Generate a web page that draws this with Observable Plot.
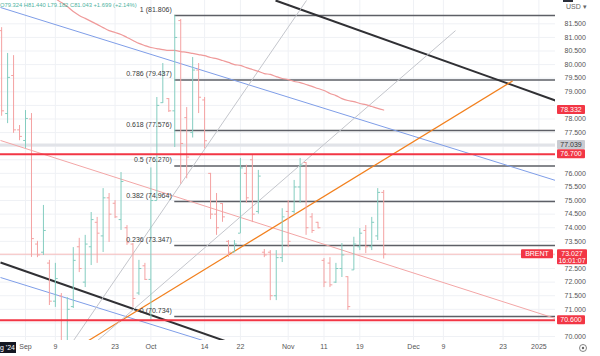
<!DOCTYPE html>
<html><head><meta charset="utf-8">
<script src="https://cdn.jsdelivr.net/npm/d3@7"></script>
<script src="https://cdn.jsdelivr.net/npm/@observablehq/plot@0.6"></script>
<style>body{margin:0;background:#fff}#chart{width:600px;height:356px;overflow:hidden}</style>
</head><body><div id="chart"></div>
<script>
// ---------- data ----------
const barDates = ["2024-08-27","2024-08-28","2024-08-29","2024-08-30","2024-09-02","2024-09-03","2024-09-04","2024-09-05","2024-09-06","2024-09-09","2024-09-10","2024-09-11","2024-09-12","2024-09-13","2024-09-16","2024-09-17","2024-09-18","2024-09-19","2024-09-20","2024-09-23","2024-09-24","2024-09-25","2024-09-26","2024-09-27","2024-09-30","2024-10-01","2024-10-02","2024-10-03","2024-10-04","2024-10-07","2024-10-08","2024-10-09","2024-10-10","2024-10-11","2024-10-14","2024-10-15","2024-10-16","2024-10-17","2024-10-18","2024-10-21","2024-10-22","2024-10-23","2024-10-24","2024-10-25","2024-10-28","2024-10-29","2024-10-30","2024-10-31","2024-11-01","2024-11-04","2024-11-05","2024-11-06","2024-11-07","2024-11-08","2024-11-11","2024-11-12","2024-11-13","2024-11-14","2024-11-15","2024-11-18","2024-11-19","2024-11-20","2024-11-21","2024-11-22","2024-11-25"];
const opens  = [81.25,78.20,79.60,77.60,77.21,78.00,73.40,73.10,72.70,71.30,71.50,69.30,71.10,73.30,72.00,73.30,74.20,73.70,75.10,74.90,74.30,74.00,73.40,71.60,72.60,72.10,75.00,78.60,78.75,78.30,81.62,78.05,77.50,79.80,78.70,76.00,74.50,74.89,73.50,73.10,73.80,76.00,76.50,74.60,73.10,73.10,71.50,72.90,74.60,74.60,75.50,76.40,74.40,74.20,72.80,72.70,72.00,72.50,72.20,72.45,73.30,73.90,73.30,73.70,75.30];
const highs  = [81.36,80.41,80.33,77.76,78.31,78.20,73.50,74.82,72.80,72.69,71.58,71.43,73.27,73.61,73.72,74.56,74.38,75.44,75.26,75.00,76.03,74.08,73.42,72.80,72.69,76.20,78.79,80.04,78.75,81.81,81.66,78.42,80.26,80.04,78.79,76.00,75.26,74.89,73.53,73.53,76.55,76.30,76.66,76.11,73.20,73.16,73.16,74.70,75.00,75.74,76.55,76.40,74.52,74.20,72.87,72.90,72.69,73.42,72.20,73.65,73.97,74.08,74.38,75.44,75.37];
const lows   = [78.10,77.83,77.47,77.20,76.91,72.91,72.90,72.98,71.14,71.07,68.70,68.70,71.03,72.35,71.80,72.61,72.69,73.09,73.46,74.34,73.90,73.35,71.07,71.51,72.06,70.60,75.00,78.57,78.24,76.95,75.60,75.80,77.30,78.20,76.90,74.30,73.72,74.20,72.91,73.09,73.79,74.90,74.19,74.50,72.90,71.32,71.32,72.72,73.27,74.50,74.90,73.72,73.79,73.96,71.80,71.80,71.95,72.17,70.96,72.43,73.16,73.05,73.16,73.53,72.85];
const closes = [78.30,79.53,77.60,77.36,78.02,73.60,73.00,73.90,71.30,72.13,69.30,71.00,72.80,72.50,73.40,74.30,73.80,75.10,74.50,74.40,75.70,73.45,71.40,72.50,72.10,75.00,78.50,79.70,78.30,81.00,77.10,76.60,79.80,78.80,77.20,74.50,74.00,74.40,73.10,73.40,76.20,75.10,74.50,75.90,73.00,71.50,72.90,74.40,73.50,75.50,76.30,74.00,73.90,74.00,72.00,71.90,72.50,73.00,71.10,73.40,73.80,73.30,74.20,75.30,73.03];

// moving average, one value per bar from maStart
const maStart = "2024-09-09";
const maValues = [82.43,82.28,82.14,81.95,81.81,81.70,81.59,81.48,81.36,81.25,81.18,81.11,81.00,80.89,80.78,80.70,80.63,80.59,80.55,80.52,80.52,80.48,80.45,80.41,80.37,80.33,80.26,80.22,80.15,80.08,80.00,79.97,79.89,79.82,79.75,79.67,79.64,79.56,79.49,79.45,79.38,79.34,79.27,79.20,79.12,79.05,78.94,78.86,78.75,78.68,78.64,78.57,78.53,78.46,78.39,78.33];

// fibonacci retracement
const fibHigh = 81.806, fibLow = 70.734, fibStart = "2024-10-07";
const fibRatios = [1, 0.786, 0.618, 0.5, 0.382, 0.236, 0];

// drawn trend lines, endpoints as (bar slot, price)
const lineNames = ["blueUpper","blueLower","blackUpper","blackLower","pinkTrend","orange","grayA","grayB"];
const lineS1 = [-4.19, -4.19, 41.88, -4.19, -4.19, 10.55, 8.04, 12.06];
const lineP1 = [82.10, 72.17, 82.36, 72.72, 77.21, 69.85, 69.85, 69.85];
const lineS2 = [88.78, 31.83, 88.78, 36.50, 88.78, 81.60, 47.07, 72.03];
const lineP2 = [75.74, 69.71, 78.68, 69.60, 70.66, 79.40, 82.36, 81.25];

// horizontal levels and price tags
const redLevels = [76.700, 70.600];
const grayLevel = 77.039;
const lastPrice = 73.027;
const maLast = 78.332;
const lastTime = "16:01:07";
const header = "O79.324 H81.440 L79.182 C81.043 +1.699 (+2.14%)";

// axes
const yTicks = d3.range(70, 81.5001, 0.5);
const tickDates = ["2024-09-02","2024-09-09","2024-09-23","2024-10-01","2024-10-14","2024-10-22","2024-11-01","2024-11-11","2024-11-19","2024-12-02","2024-12-09","2024-12-23","2025-01-02"];
const tickLabels = ["Sep","9","23","Oct","14","22","Nov","11","19","Dec","9","23","2025"];
const holidays = ["2024-12-25","2025-01-01"];
const xDomain = [-4.19, 88.78];
const yDomain = [69.853, 82.358];

// ---------- helpers ----------
function slotOf(s){
  const base = Date.UTC(2024,8,2), t = Date.parse(s+"T00:00:00Z");
  let n = 0, cur = base; const step = t >= base ? 1 : -1;
  while (cur !== t){
    cur += step*864e5;
    const d = new Date(cur), wd = d.getUTCDay(), iso = d.toISOString().slice(0,10);
    if (wd !== 0 && wd !== 6 && !holidays.includes(iso)) n += step;
  }
  return n;
}
const bars = barDates.map((d,i)=>({slot:slotOf(d), open:opens[i], high:highs[i], low:lows[i], close:closes[i], up:closes[i]>=opens[i]}));
const ma0 = slotOf(maStart);
const ma = maValues.map((v,i)=>({slot:ma0+i, v}));
const fib0 = slotOf(fibStart);
const fibs = fibRatios.map(r=>({r, p: fibLow + r*(fibHigh-fibLow)}));
const lines = lineNames.map((n,i)=>({n, s1:lineS1[i], p1:lineP1[i], s2:lineS2[i], p2:lineP2[i]}));
const xTickSlots = tickDates.map(slotOf);
const labelBySlot = new Map(xTickSlots.map((s,i)=>[s, tickLabels[i]]));

// tick labels hidden behind price tags (as on the reference)
const tagPrices = [maLast, grayLevel, redLevels[0], lastPrice, redLevels[1]];
const pxPerUnit = 340/(yDomain[1]-yDomain[0]);
const yTickLabels = yTicks.filter(t => tagPrices.every(p => Math.abs(p-t)*pxPerUnit > 7));

const GREEN = "#84cdc0", RED = "#f4a2a2";
const lineStyle = {
  blueUpper:{stroke:"#7f9ee8", w:1}, blueLower:{stroke:"#7f9ee8", w:1},
  blackUpper:{stroke:"#303034", w:2}, blackLower:{stroke:"#303034", w:2},
  pinkTrend:{stroke:"#f3a6a6", w:1}, orange:{stroke:"#f2801e", w:1.2},
  grayA:{stroke:"#c4c6cc", w:1}, grayB:{stroke:"#c4c6cc", w:1}
};

const marks = [
  Plot.gridY(yTicks, {stroke:"#eff1f5", strokeOpacity:1}),
  Plot.gridX(xTickSlots, {stroke:"#eff1f5", strokeOpacity:1}),
  Plot.ruleY([grayLevel], {stroke:"#e1e3e8", strokeWidth:3}),
  Plot.ruleY([lastPrice], {stroke:"#f7baba", strokeWidth:1}),
  Plot.ruleY(fibs, {y:"p", x1:fib0, x2:xDomain[1], stroke:"#5d5f66", strokeWidth:1.5}),
  ...lineNames.map(n => Plot.link(lines.filter(l=>l.n===n), {x1:"s1", y1:"p1", x2:"s2", y2:"p2", stroke:lineStyle[n].stroke, strokeWidth:lineStyle[n].w, clip:true})),
  Plot.line(ma, {x:"slot", y:"v", stroke:"#ef9a9a", strokeWidth:1.2, curve:"monotone-x", clip:true}),
  ...[[true,GREEN],[false,RED]].flatMap(([u,c]) => {
    const b = bars.filter(d=>d.up===u);
    return [
      Plot.ruleX(b, {x:"slot", y1:"low", y2:"high", stroke:c, clip:true}),
      Plot.link(b, {x1:d=>d.slot-0.4, x2:"slot", y1:"open", y2:"open", stroke:c, clip:true}),
      Plot.link(b, {x1:"slot", x2:d=>d.slot+0.4, y1:"close", y2:"close", stroke:c, clip:true})
    ];
  }),
  Plot.ruleY(redLevels, {stroke:"#f23645", strokeWidth:2}),
  Plot.text(fibs, {x:fib0, y:"p", text:d=>`${d.r} (${d.p.toFixed(3)})`, textAnchor:"end", dx:-3, dy:-6, fill:"#3a3a3a", fontSize:7}),
  Plot.axisY(yTickLabels, {anchor:"right", tickSize:0, tickPadding:9, tickFormat:d=>d.toFixed(3), fill:"#555"}),
  Plot.axisX(xTickSlots, {anchor:"bottom", tickSize:0, tickPadding:4, tickFormat:s=>labelBySlot.get(s), fill:"#555"})
];

const chart = Plot.plot({
  width:600, height:356, marginLeft:0, marginRight:45, marginTop:0, marginBottom:16,
  style:{fontFamily:"'Liberation Sans', Arial, sans-serif", fontSize:"7px", background:"#fff", overflow:"hidden"},
  x:{domain:xDomain, axis:null},
  y:{domain:yDomain, axis:null},
  marks
});
document.getElementById("chart").appendChild(chart);

// ---------- overlays positioned with the plot's scales ----------
const svg = d3.select(chart);
const ys = chart.scale("y");
const g = svg.append("g").attr("font-family","'Liberation Sans', Arial, sans-serif").attr("font-size",7).attr("text-anchor","start");
function tag(price, text, bg, fg, x=557, w=28, extra){
  const y = ys.apply(price);
  const h = extra ? 15 : 9;
  g.append("rect").attr("x",x).attr("y",y-4.5).attr("width",w).attr("height",h).attr("fill",bg).attr("rx",1);
  g.append("text").attr("x",x+w/2).attr("y",y+2.5).attr("text-anchor","middle").attr("fill",fg).text(text);
  if (extra) g.append("text").attr("x",x+w/2).attr("y",y+9).attr("text-anchor","middle").attr("fill",fg).text(extra);
}
tag(maLast, maLast.toFixed(3), "#f23645", "#fff");
tag(grayLevel, grayLevel.toFixed(3), "#c9cbd1", "#333");
tag(redLevels[0], redLevels[0].toFixed(3), "#f23645", "#fff");
tag(lastPrice, lastPrice.toFixed(3), "#f23645", "#fff", 557, 30, lastTime);
tag(lastPrice, "BRENT", "#f23645", "#fff", 521, 32);
tag(redLevels[1], redLevels[1].toFixed(3), "#f23645", "#fff");
g.append("text").attr("x",0).attr("y",7).attr("font-size",5.8).attr("fill","#4fb3a1").text(header);
g.append("text").attr("x",566).attr("y",9).attr("fill","#666").text("USD ▾");
g.append("rect").attr("x",563).attr("y",-3).attr("width",10).attr("height",5).attr("fill","#2a2e39");
g.append("rect").attr("x",-12).attr("y",342).attr("width",28).attr("height",11).attr("fill","#131722");
g.append("text").attr("x",15).attr("y",350).attr("text-anchor","end").attr("fill","#fff").text("Aug '24");
g.append("circle").attr("cx",583).attr("cy",348).attr("r",3.5).attr("fill","none").attr("stroke","#666").attr("stroke-width",0.8);
g.append("circle").attr("cx",583).attr("cy",348).attr("r",1.2).attr("fill","#666");
</script></body></html>
